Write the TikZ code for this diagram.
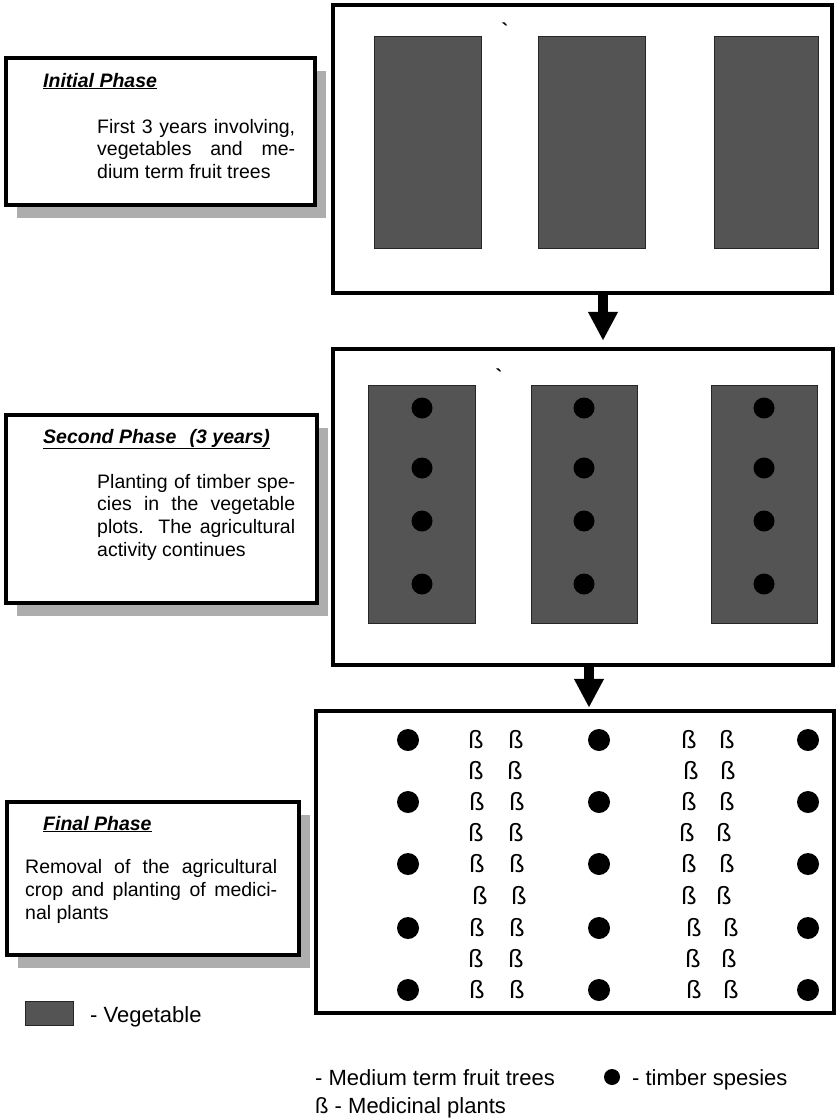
\documentclass[tikz,border=0pt]{standalone}
\usepackage{fontspec}
\setmainfont{Liberation Sans}
\usetikzlibrary{arrows.meta,shadows}
\begin{document}
\begin{tikzpicture}[x=1pt,y=-1pt,
  panel/.style={draw, line width=4.5pt, fill=white, inner sep=0pt, rectangle},
  phasebox/.style={draw, line width=3.5pt, fill=white, inner sep=0pt, rectangle,
    drop shadow={shadow xshift=11pt, shadow yshift=-13pt, fill=black!32, opacity=1}},
  veg/.style={draw=black!85, line width=0.8pt, fill=black!67},
  tdot/.style={circle, fill=black, inner sep=0pt, minimum size=21pt},
  beta/.style={font=\fontsize{25}{25}\selectfont, inner sep=0pt},
  phasetitle/.style={font=\fontsize{19.5}{23}\selectfont\bfseries\itshape, anchor=base west, inner sep=0pt},
  phasebody/.style={font=\fontsize{19.5}{23}\selectfont, anchor=base west, inner sep=0pt, align=justify},
  legendtext/.style={font=\fontsize{22}{28}\selectfont, anchor=base west, inner sep=0pt},
  bigarrow/.style={line width=10pt, -{Triangle[width=28pt,length=29pt]}},
  tick/.style={font=\fontsize{20}{20}\selectfont\bfseries, inner sep=0pt}
]
\useasboundingbox[fill=white] (0,0) rectangle (840,1119);

% ---------- right panels ----------
\node[panel, minimum width=499pt, minimum height=288pt] (p1) at (582.5,149) {};
\node[panel, minimum width=500pt, minimum height=316pt] (p2) at (583,507) {};
\node[panel, minimum width=518pt, minimum height=302pt] (p3) at (575,862) {};

% panel 1 vegetable plots
\draw[veg] (374,36) rectangle (481,248);
\draw[veg] (538,36) rectangle (645,248);
\draw[veg] (714,36) rectangle (818,248);
\node[tick] (k1) at (505,30) {\textasciigrave};

% panel 2 vegetable plots with timber
\draw[veg] (368,385) rectangle (475,623);
\draw[veg] (531,385) rectangle (637,623);
\draw[veg] (711,385) rectangle (817,623);
\node[tick] (k2) at (499,376) {\textasciigrave};
\foreach \xx in {422,584,764}
  \foreach \yy in {408,468,521,584}
    \node[tdot, minimum size=21pt] at (\xx,\yy) {};

% panel 3: timber + medicinal plants
\foreach \xx in {408,599,808}
  \foreach \yy in {740,802,864,928,990}
    \node[tdot, minimum size=22pt] at (\xx,\yy) {};
\foreach \ya/\la/\lb/\ra/\rb in {740/476/516/689/727, 771/476/515/691/728, 802/477/517/689/727,
    833/476/516/687/724, 864/477/517/689/727, 896/480/519/689/724, 928/477/517/694/731,
    959/476/516/693/729, 990/477/517/694/731}{
  \node[beta] at (\la,\ya) {ß};
  \node[beta] at (\lb,\ya) {ß};
  \node[beta] at (\ra,\ya) {ß};
  \node[beta] at (\rb,\ya) {ß};
}

% arrows
\coordinate (a1) at (603,0);
\coordinate (a2) at (589,0);
\draw[bigarrow, shorten >=6pt] (p1.south -| a1) -- (p2.north -| a1);
\draw[bigarrow, shorten >=1pt] (p2.south -| a2) -- (p3.north -| a2);

% ---------- left phase boxes ----------
\node[phasebox, minimum width=309pt, minimum height=147pt] (b1) at (160.5,131.5) {};
\node[phasetitle] (t1) at (43,87) {\underline{Initial Phase}};
\node[phasebody, text width=198pt, font=\fontsize{19.5}{22.5}\selectfont] (d1) at (97,133)
  {First 3 years involving,\linebreak vegetables and me-\linebreak dium term fruit trees};

\node[phasebox, minimum width=311pt, minimum height=188pt] (b2) at (161.5,509) {};
\node[phasetitle] (t2) at (43,443) {\underline{Second Phase\hspace{0.4em} (3 years)}};
\node[phasebody, text width=198pt, font=\fontsize{19.5}{22.7}\selectfont] (d2) at (97,488)
  {Planting of timber spe-\linebreak cies in the vegetable\linebreak plots. The agricultural\linebreak activity continues};

\node[phasebox, minimum width=292pt, minimum height=153pt] (b3) at (153,878.5) {};
\node[phasetitle] (t3) at (43,830) {\underline{Final Phase}};
\node[phasebody, text width=252pt] (d3) at (25,873)
  {Removal of the agricultural\linebreak crop and planting of medici-\linebreak nal plants};

% ---------- legends ----------
\draw[veg] (25,1001) rectangle (73,1025);
\node[legendtext] (l1) at (90,1022) {- Vegetable};
\node[legendtext] (l2) at (315,1085) {- Medium term fruit trees};
\node[tdot, minimum size=16pt] (l3) at (612,1077) {};
\node[legendtext] (l4) at (632,1085) {- timber spesies};
\node[legendtext] (l5) at (315,1113) {ß - Medicinal plants};
\end{tikzpicture}
\end{document}
